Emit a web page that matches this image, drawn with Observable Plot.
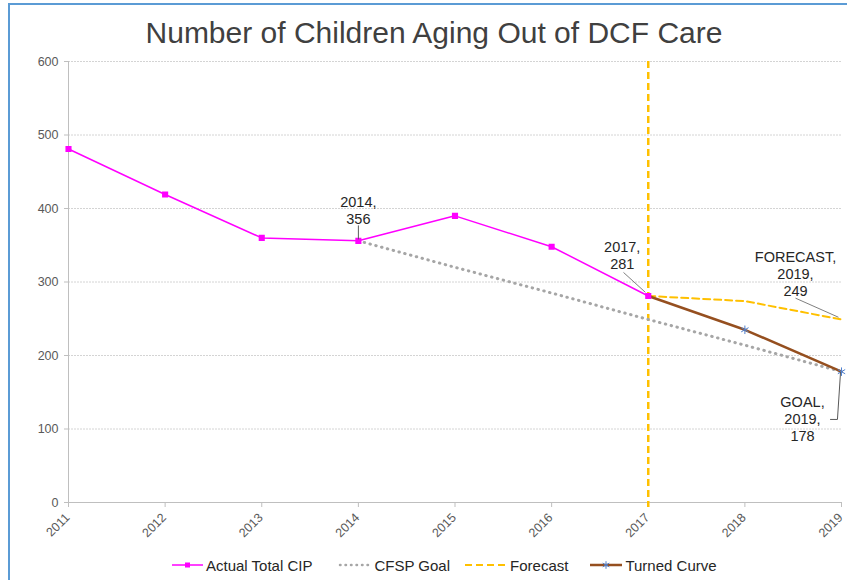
<!DOCTYPE html>
<html>
<head>
<meta charset="utf-8">
<script src="https://cdn.jsdelivr.net/npm/d3@7"></script>
<script src="https://cdn.jsdelivr.net/npm/@observablehq/plot@0.6"></script>
<style>
  html, body { margin: 0; padding: 0; background: #fff; }
  #wrap { position: relative; width: 847px; height: 580px; overflow: hidden; font-family: "Liberation Sans", Arial, sans-serif; }
  #frame { position: absolute; left: 8px; top: 3px; width: 900px; height: 700px; border-left: 2px solid #5b9bd5; border-top: 2px solid #5b9bd5; pointer-events: none; }
  #title { height: 48px; box-sizing: border-box; padding-top: 16px; line-height: 34px; margin-left: 21px; text-align: center; font-size: 30px; color: #404040; }
  #chart svg { display: block; }
  #legend { position: absolute; left: 172px; top: 555px; height: 20px; display: flex; align-items: center; font-size: 15px; color: #262626; }
  #legend .item { display: flex; align-items: center; }
  #legend svg { margin-right: 3px; }
</style>
</head>
<body>
<div id="wrap">
  <div id="title">Number of Children Aging Out of DCF Care</div>
  <div id="chart"></div>
  <div id="legend"></div>
  <div id="frame"></div>
</div>
<script>
// ---- data ----
const years = [2011, 2012, 2013, 2014, 2015, 2016, 2017, 2018, 2019];
const yTicks = [0, 100, 200, 300, 400, 500, 600];

const actualYears = [2011, 2012, 2013, 2014, 2015, 2016, 2017];
const actualValues = [481, 419, 360, 356, 390, 348, 281];

const goalYears = [2014, 2015, 2016, 2017, 2018, 2019];
const goalValues = [356, 320, 285, 249, 214, 178];

const forecastYears = [2017, 2018, 2019];
const forecastValues = [281, 274, 249];

const turnedYears = [2017, 2018, 2019];
const turnedValues = [281, 235, 178];

const annotationLabels = ["2014,\n356", "2017,\n281", "FORECAST,\n2019,\n249", "GOAL,\n2019,\n178"];
const annotationYears = [2014, 2017, 2019, 2019];
const annotationValues = [356, 281, 249, 178];

const seriesNames = ["Actual Total CIP", "CFSP Goal", "Forecast", "Turned Curve"];

// ---- build tables ----
const zip = (xs, vs) => xs.map((x, i) => ({year: x, value: vs[i]}));
const actual = zip(actualYears, actualValues);
const goal = zip(goalYears, goalValues);
const forecast = zip(forecastYears, forecastValues);
const turned = zip(turnedYears, turnedValues);
const ann = annotationLabels.map((t, i) => ({label: t, year: annotationYears[i], value: annotationValues[i]}));

const C = {
  actual: "#ff00ff",
  goal: "#a6a6a6",
  forecast: "#ffc000",
  turned: "#954f1f",
  star: "#4f81d0",
  axis: "#bfbfbf",
  text: "#595959",
  ann: "#262626"
};

const annStyle = {x: "year", y: "value", text: "label", fill: C.ann, fontSize: 14.5, lineHeight: 1.18, textAnchor: "middle"};

const chart = Plot.plot({
  width: 847,
  height: 492,
  marginTop: 13,
  marginBottom: 38,
  marginLeft: 68,
  marginRight: 6,
  style: {fontFamily: "'Liberation Sans', Arial, sans-serif", fontSize: "12.5px", background: "transparent", color: C.text},
  x: {domain: [2011, 2019], axis: null},
  y: {domain: [0, 600]},
  marks: [
    Plot.gridY(yTicks.filter(d => d > 0), {stroke: "#d4d4d4", strokeOpacity: 1, strokeDasharray: "2 1"}),
    Plot.ruleX([2011], {stroke: C.axis}),
    Plot.axisY(yTicks, {tickSize: 4, tickPadding: 6, stroke: C.axis, fill: C.text, label: null, fontSize: 12.5}),
    Plot.ruleY([0], {stroke: C.axis}),
    Plot.ruleX(years, {x: d => d, y1: 0, y2: 0, insetBottom: -5, stroke: C.axis}),
    Plot.text(years, {x: d => d, frameAnchor: "bottom", text: d => String(d), rotate: -45, textAnchor: "end", lineAnchor: "middle", dx: -1, dy: 13, fill: C.text, fontSize: 12.5}),
    Plot.ruleX([2017], {stroke: C.forecast, strokeWidth: 2.5, strokeDasharray: "7 4", insetBottom: -5}),
    Plot.line(goal, {x: "year", y: "value", stroke: C.goal, strokeWidth: 3, strokeDasharray: "0.5 5.5", strokeLinecap: "round"}),
    Plot.line(forecast, {x: "year", y: "value", stroke: C.forecast, strokeWidth: 2, strokeDasharray: "7 4"}),
    Plot.line(turned, {x: "year", y: "value", stroke: C.turned, strokeWidth: 2.5}),
    Plot.dot(turned.slice(1), {x: "year", y: "value", symbol: "asterisk", stroke: C.star, strokeWidth: 1, r: 4}),
    Plot.line(actual, {x: "year", y: "value", stroke: C.actual, strokeWidth: 1.5}),
    Plot.dot(actual, {x: "year", y: "value", symbol: "square", fill: C.actual, stroke: C.actual, r: 2.6}),
    // annotations
    Plot.text([ann[0]], {...annStyle, lineAnchor: "bottom", dy: -17}),
    Plot.text([ann[1]], {...annStyle, lineAnchor: "bottom", dx: -26, dy: -27}),
    Plot.text([ann[2]], {...annStyle, lineAnchor: "bottom", dx: -46, dy: -23}),
    Plot.text([ann[3]], {...annStyle, lineAnchor: "top", dx: -39, dy: 23}),
    // leader lines
    Plot.link([0], {x1: () => 2014, y1: () => 358, x2: () => 2014, y2: () => 377, stroke: "#595959", strokeWidth: 1}),
    Plot.link([0], {x1: () => 2016.744, y1: () => 313, x2: () => 2016.97, y2: () => 286, stroke: "#808080", strokeWidth: 1}),
    Plot.link([0], {x1: () => 2018.524, y1: () => 278, x2: () => 2018.969, y2: () => 252, stroke: "#808080", strokeWidth: 1}),
    Plot.line([[2018.99, 177], [2018.958, 113], [2018.886, 113]], {stroke: "#595959", strokeWidth: 1})
  ]
});
document.getElementById("chart").appendChild(chart);

// ---- legend ----
const legend = d3.select("#legend");
const gaps = [26, 15, 22, 0];
const swatches = [
  {w: 31, draw: g => { g.append("line").attr("x1", 0).attr("x2", 31).attr("y1", 6).attr("y2", 6).attr("stroke", C.actual).attr("stroke-width", 1.5); g.append("rect").attr("x", 13).attr("y", 3.5).attr("width", 5).attr("height", 5).attr("fill", C.actual); }},
  {w: 33, draw: g => { g.append("line").attr("x1", 2).attr("x2", 32).attr("y1", 6).attr("y2", 6).attr("stroke", C.goal).attr("stroke-width", 2.5).attr("stroke-dasharray", "0.5 5").attr("stroke-linecap", "round"); }},
  {w: 42, draw: g => { g.append("line").attr("x1", 0).attr("x2", 40).attr("y1", 6).attr("y2", 6).attr("stroke", C.forecast).attr("stroke-width", 2).attr("stroke-dasharray", "7 4"); }},
  {w: 32, draw: g => { g.append("line").attr("x1", 0).attr("x2", 32).attr("y1", 6).attr("y2", 6).attr("stroke", C.turned).attr("stroke-width", 2.5); g.append("path").attr("transform", "translate(16,6)").attr("d", d3.symbol(d3.symbolAsterisk, 40)()).attr("stroke", C.star).attr("fill", "none"); }}
];
swatches.forEach((s, i) => {
  const item = legend.append("div").attr("class", "item").style("margin-right", gaps[i] + "px");
  const svg = item.append("svg").attr("width", s.w).attr("height", 12);
  s.draw(svg.append("g"));
  item.append("span").text(seriesNames[i]);
});
</script>
</body>
</html>
